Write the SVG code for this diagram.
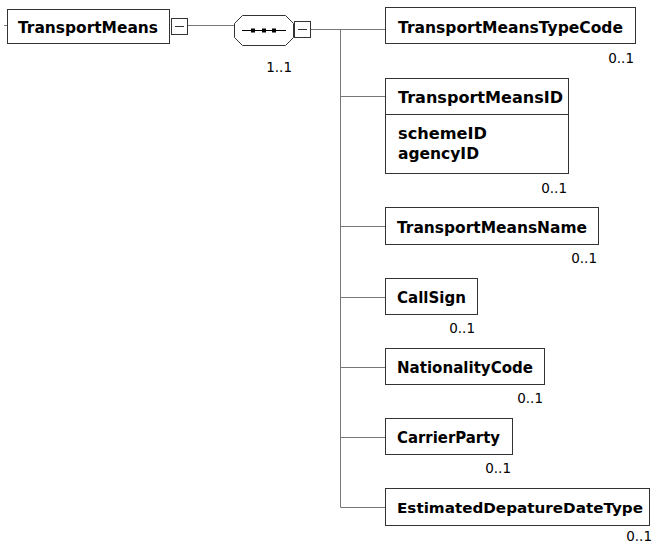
<svg xmlns="http://www.w3.org/2000/svg" width="654" height="544" viewBox="0 0 654 544">
<style>
.box{fill:#fff;stroke:#333;stroke-width:1}
.con{fill:none;stroke:#777;stroke-width:1}
.ctl{fill:#fff;stroke:#333;stroke-width:1}
.lbl{font-family:"DejaVu Sans",Verdana,sans-serif;font-weight:bold;font-size:16.5px;fill:#000}
.attr{font-family:"DejaVu Sans",Verdana,sans-serif;font-weight:bold;font-size:16px;fill:#000}
.card{font-family:"DejaVu Sans",Verdana,sans-serif;font-size:13.5px;fill:#000;text-anchor:end}
</style>
<rect width="654" height="544" fill="#fff"/>
<g id="connectors">
<line class="con" x1="4" y1="25.5" x2="7" y2="25.5"/>
<line class="con" x1="188" y1="25.5" x2="234" y2="25.5"/>
<line class="con" x1="311" y1="29.5" x2="385" y2="29.5"/>
<line class="con" x1="340.5" y1="29.5" x2="340.5" y2="507.5"/>
<line class="con" x1="340.5" y1="96.5" x2="385" y2="96.5"/>
<line class="con" x1="340.5" y1="226.5" x2="385" y2="226.5"/>
<line class="con" x1="340.5" y1="297.5" x2="385" y2="297.5"/>
<line class="con" x1="340.5" y1="367.5" x2="385" y2="367.5"/>
<line class="con" x1="340.5" y1="437.5" x2="385" y2="437.5"/>
<line class="con" x1="340.5" y1="507.5" x2="385" y2="507.5"/>
</g>
<g id="TransportMeans">
<rect class="box" x="7.5" y="9.5" width="162" height="34"/>
<text class="lbl" x="18" y="33" textLength="140" lengthAdjust="spacingAndGlyphs">TransportMeans</text>
<rect class="ctl" x="171.5" y="18.5" width="16" height="16"/>
<line x1="175" y1="26.5" x2="184" y2="26.5" stroke="#333"/>
</g>
<g id="sequence">
<polygon class="ctl" points="242.5,15.5 285.5,15.5 293.5,23.5 293.5,37.5 285.5,45.5 242.5,45.5 234.5,37.5 234.5,23.5"/>
<line x1="242" y1="30.5" x2="286" y2="30.5" stroke="#000"/>
<rect x="251" y="28.5" width="4" height="4" fill="#000"/>
<rect x="262" y="28.5" width="4" height="4" fill="#000"/>
<rect x="272" y="28.5" width="4" height="4" fill="#000"/>
<rect class="ctl" x="294.5" y="21.5" width="16" height="16"/>
<line x1="298" y1="29.5" x2="307" y2="29.5" stroke="#333"/>
<text class="card" x="292" y="72">1..1</text>
</g>
<g id="TransportMeansTypeCode">
<rect class="box" x="385.5" y="7.5" width="250" height="36"/>
<text class="lbl" x="398" y="33" textLength="225" lengthAdjust="spacingAndGlyphs">TransportMeansTypeCode</text>
<text class="card" x="634" y="63">0..1</text>
</g>
<g id="TransportMeansID">
<rect class="box" x="385.5" y="78.5" width="183" height="95"/>
<line x1="385.5" y1="114.5" x2="568.5" y2="114.5" stroke="#333"/>
<text class="lbl" x="398" y="103" textLength="165" lengthAdjust="spacingAndGlyphs">TransportMeansID</text>
<text class="attr" x="398" y="139" textLength="89" lengthAdjust="spacingAndGlyphs">schemeID</text>
<text class="attr" x="398" y="159" textLength="81" lengthAdjust="spacingAndGlyphs">agencyID</text>
<text class="card" x="567" y="193">0..1</text>
</g>
<g id="TransportMeansName">
<rect class="box" x="385.5" y="207.5" width="213" height="37"/>
<text class="lbl" x="397" y="233" textLength="190" lengthAdjust="spacingAndGlyphs">TransportMeansName</text>
<text class="card" x="597" y="263">0..1</text>
</g>
<g id="CallSign">
<rect class="box" x="385.5" y="278.5" width="92" height="36"/>
<text class="lbl" x="397" y="303" textLength="69" lengthAdjust="spacingAndGlyphs">CallSign</text>
<text class="card" x="475" y="333">0..1</text>
</g>
<g id="NationalityCode">
<rect class="box" x="385.5" y="348.5" width="159" height="36"/>
<text class="lbl" x="397" y="373" textLength="136" lengthAdjust="spacingAndGlyphs">NationalityCode</text>
<text class="card" x="543" y="403">0..1</text>
</g>
<g id="CarrierParty">
<rect class="box" x="385.5" y="418.5" width="127" height="36"/>
<text class="lbl" x="397" y="443" textLength="103" lengthAdjust="spacingAndGlyphs">CarrierParty</text>
<text class="card" x="511" y="473">0..1</text>
</g>
<g id="EstimatedDepatureDateType">
<rect class="box" x="385.5" y="488.5" width="264" height="37"/>
<text class="lbl" x="397" y="513" style="font-size:14.5px" textLength="246" lengthAdjust="spacingAndGlyphs">EstimatedDepatureDateType</text>
<text class="card" x="652" y="541">0..1</text>
</g>
</svg>
